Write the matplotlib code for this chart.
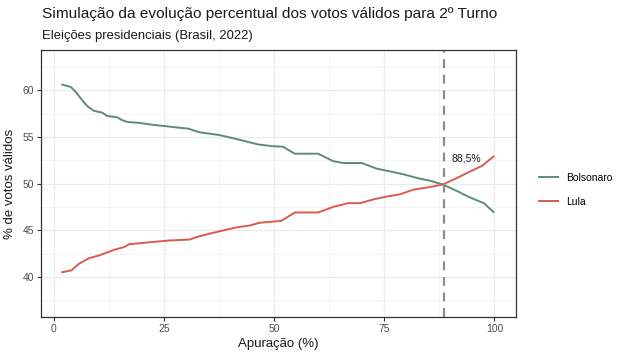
import matplotlib
matplotlib.use("Agg")
import matplotlib.pyplot as plt

plt.rcParams['font.family'] = ['Liberation Sans', 'DejaVu Sans']

apuracao_b = [1.9, 3.9, 5.0, 6.5, 7.6, 9.1, 11.0, 12.1, 14.4, 15.5, 16.7, 19.4, 22.4, 25.4, 28.1, 30.4, 33.0,
              37.6, 42.1, 46.3, 49.7, 52.0, 54.7, 60.0, 63.4, 65.7, 69.9, 73.3, 76.3, 79.3, 82.4, 85.4,
              88.3, 91.5, 94.5, 97.6, 99.8]
bolsonaro = [60.6, 60.35, 59.8, 58.9, 58.3, 57.8, 57.6, 57.25, 57.1, 56.8, 56.6, 56.5, 56.3, 56.15, 56.0, 55.9, 55.5,
             55.2, 54.7, 54.2, 54.0, 53.95, 53.2, 53.2, 52.4, 52.2, 52.2, 51.6, 51.3, 51.0, 50.6, 50.3,
             49.9, 49.2, 48.5, 47.9, 46.95]

apuracao_l = [1.9, 4.0, 5.7, 8.0, 10.3, 13.7, 16.0, 17.1, 21.6, 26.2, 30.8, 33.0, 36.4, 41.4, 44.4, 46.7,
              51.6, 54.7, 60.0, 63.4, 66.8, 69.5, 72.5, 75.5, 78.6, 81.6, 85.0, 88.3, 91.5, 94.5, 97.2, 99.8]
lula = [40.5, 40.7, 41.4, 42.0, 42.3, 42.9, 43.2, 43.5, 43.7, 43.9, 44.0, 44.35, 44.75, 45.3, 45.5, 45.8,
        46.0, 46.9, 46.9, 47.5, 47.9, 47.9, 48.3, 48.6, 48.85, 49.35, 49.6, 49.9, 50.6, 51.3, 51.9, 52.9]

marco = 88.5
marco_label = "88,5%"

fig = plt.figure(figsize=(6.27, 3.58), dpi=100)
ax = fig.add_axes([0.0654, 0.1145, 0.7576, 0.7455])

ax.plot(apuracao_b, bolsonaro, color="#5F8B75", lw=1.4, label="Bolsonaro", solid_joinstyle='round')
ax.plot(apuracao_l, lula, color="#DB5A4E", lw=1.4, label="Lula", solid_joinstyle='round')
ax.axvline(marco, color="#8C8C8C", lw=1.6, ls=(0, (4, 3)))
ax.text(90.2, 52.7, marco_label, fontsize=7.5, color="#1a1a1a", va="center", ha="left")

ax.set_xlim(-2.9, 104.9)
ax.set_ylim(35.7, 64.3)
ax.set_xticks([0, 25, 50, 75, 100])
ax.set_yticks([40, 45, 50, 55, 60])
ax.set_xticks([12.5, 37.5, 62.5, 87.5], minor=True)
ax.set_yticks([37.5, 42.5, 47.5, 52.5, 57.5, 62.5], minor=True)
ax.grid(True, which='major', color="#EBEBEB", lw=0.9)
ax.grid(True, which='minor', color="#F2F2F2", lw=0.6)
ax.set_axisbelow(True)
ax.tick_params(which='major', length=3, width=0.8, color="#333333", labelsize=7.5, labelcolor="#4D4D4D", pad=2)
ax.tick_params(which='minor', length=0)
for s in ax.spines.values():
    s.set_color("#333333")
    s.set_linewidth(0.9)

ax.set_xlabel("Apuração (%)", fontsize=9.5, color="#1a1a1a", labelpad=3)
ax.set_ylabel("% de votos válidos", fontsize=9.5, color="#1a1a1a", labelpad=5)

fig.text(0.0665, 0.960, "Simulação da evolução percentual dos votos válidos para 2º Turno",
         fontsize=11.1, color="#1a1a1a", va="center", ha="left")
fig.text(0.0665, 0.899, "Eleições presidenciais (Brasil, 2022)",
         fontsize=9.4, color="#1a1a1a", va="center", ha="left")

leg = fig.legend(loc="center left", bbox_to_anchor=(0.845, 0.47), frameon=False, fontsize=7.5,
                 handlelength=1.8, labelspacing=1.3, handletextpad=0.8)

fig.savefig("out.png", dpi=100, facecolor="white")
